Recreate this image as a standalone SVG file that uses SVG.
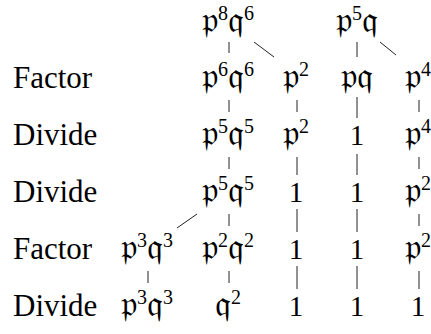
<svg xmlns="http://www.w3.org/2000/svg" width="431" height="334" viewBox="0 0 431 334">
<style>
.lbl{font-family:"Liberation Serif","DejaVu Serif",serif;font-size:31px;fill:#000}
.n{font-family:"DejaVu Serif","Liberation Serif","Noto Sans",serif;font-size:36px;fill:#000;text-anchor:middle}
.s{font-family:"Liberation Serif",serif;font-size:20px}
.d{font-family:"Liberation Serif",serif;font-size:29px}
.c line{stroke:#222;stroke-width:1}
</style>
<rect width="431" height="334" fill="#fff"/>
<g id="labels">
<text class="lbl" x="13" y="88">Factor</text>
<text class="lbl" x="13" y="145">Divide</text>
<text class="lbl" x="13" y="202">Divide</text>
<text class="lbl" x="13" y="259">Factor</text>
<text class="lbl" x="13" y="316">Divide</text>
</g>
<g id="r0a"><text class="n" x="228" y="32">𝔭<tspan class="s" dy="-12">8</tspan><tspan dy="12">𝔮</tspan><tspan class="s" dy="-12">6</tspan></text></g>
<g id="r0b"><text class="n" x="357" y="32">𝔭<tspan class="s" dy="-12">5</tspan><tspan dy="12">𝔮</tspan></text></g>
<g id="r1c"><text class="n" x="228" y="88">𝔭<tspan class="s" dy="-12">6</tspan><tspan dy="12">𝔮</tspan><tspan class="s" dy="-12">6</tspan></text></g>
<g id="r1d"><text class="n" x="296" y="88">𝔭<tspan class="s" dy="-12">2</tspan></text></g>
<g id="r1e"><text class="n" x="357" y="88">𝔭𝔮</text></g>
<g id="r1f"><text class="n" x="418" y="88">𝔭<tspan class="s" dy="-12">4</tspan></text></g>
<g id="r2c"><text class="n" x="228" y="145">𝔭<tspan class="s" dy="-12">5</tspan><tspan dy="12">𝔮</tspan><tspan class="s" dy="-12">5</tspan></text></g>
<g id="r2d"><text class="n" x="296" y="145">𝔭<tspan class="s" dy="-12">2</tspan></text></g>
<g id="r2e"><text class="n d" x="357" y="145">1</text></g>
<g id="r2f"><text class="n" x="418" y="145">𝔭<tspan class="s" dy="-12">4</tspan></text></g>
<g id="r3c"><text class="n" x="228" y="202">𝔭<tspan class="s" dy="-12">5</tspan><tspan dy="12">𝔮</tspan><tspan class="s" dy="-12">5</tspan></text></g>
<g id="r3d"><text class="n d" x="296" y="202">1</text></g>
<g id="r3e"><text class="n d" x="357" y="202">1</text></g>
<g id="r3f"><text class="n" x="418" y="202">𝔭<tspan class="s" dy="-12">2</tspan></text></g>
<g id="r4b"><text class="n" x="147" y="259">𝔭<tspan class="s" dy="-12">3</tspan><tspan dy="12">𝔮</tspan><tspan class="s" dy="-12">3</tspan></text></g>
<g id="r4c"><text class="n" x="228" y="259">𝔭<tspan class="s" dy="-12">2</tspan><tspan dy="12">𝔮</tspan><tspan class="s" dy="-12">2</tspan></text></g>
<g id="r4d"><text class="n d" x="296" y="259">1</text></g>
<g id="r4e"><text class="n d" x="357" y="259">1</text></g>
<g id="r4f"><text class="n" x="418" y="259">𝔭<tspan class="s" dy="-12">2</tspan></text></g>
<g id="r5b"><text class="n" x="147" y="316">𝔭<tspan class="s" dy="-12">3</tspan><tspan dy="12">𝔮</tspan><tspan class="s" dy="-12">3</tspan></text></g>
<g id="r5c"><text class="n" x="228" y="316">𝔮<tspan class="s" dy="-12">2</tspan></text></g>
<g id="r5d"><text class="n d" x="296" y="316">1</text></g>
<g id="r5e"><text class="n d" x="357" y="316">1</text></g>
<g id="r5f"><text class="n d" x="418" y="316">1</text></g>
<g class="c" id="connectors">
<line x1="229" y1="42" x2="229" y2="53"/>
<line x1="254" y1="42" x2="274" y2="57"/>
<line x1="357" y1="42" x2="357" y2="57"/>
<line x1="380" y1="42" x2="396" y2="55"/>
<line x1="229" y1="100" x2="229" y2="112"/>
<line x1="297" y1="100" x2="297" y2="112"/>
<line x1="357" y1="97" x2="357" y2="118"/>
<line x1="419" y1="100" x2="419" y2="112"/>
<line x1="229" y1="157" x2="229" y2="169"/>
<line x1="297" y1="157" x2="297" y2="175"/>
<line x1="357" y1="154" x2="357" y2="175"/>
<line x1="419" y1="157" x2="419" y2="169"/>
<line x1="197" y1="214" x2="177" y2="228"/>
<line x1="229" y1="214" x2="229" y2="226"/>
<line x1="297" y1="209" x2="297" y2="232"/>
<line x1="357" y1="209" x2="357" y2="232"/>
<line x1="419" y1="214" x2="419" y2="226"/>
<line x1="148" y1="271" x2="148" y2="283"/>
<line x1="229" y1="271" x2="229" y2="283"/>
<line x1="297" y1="266" x2="297" y2="289"/>
<line x1="357" y1="266" x2="357" y2="289"/>
<line x1="419" y1="271" x2="419" y2="289"/>
</g>
</svg>
